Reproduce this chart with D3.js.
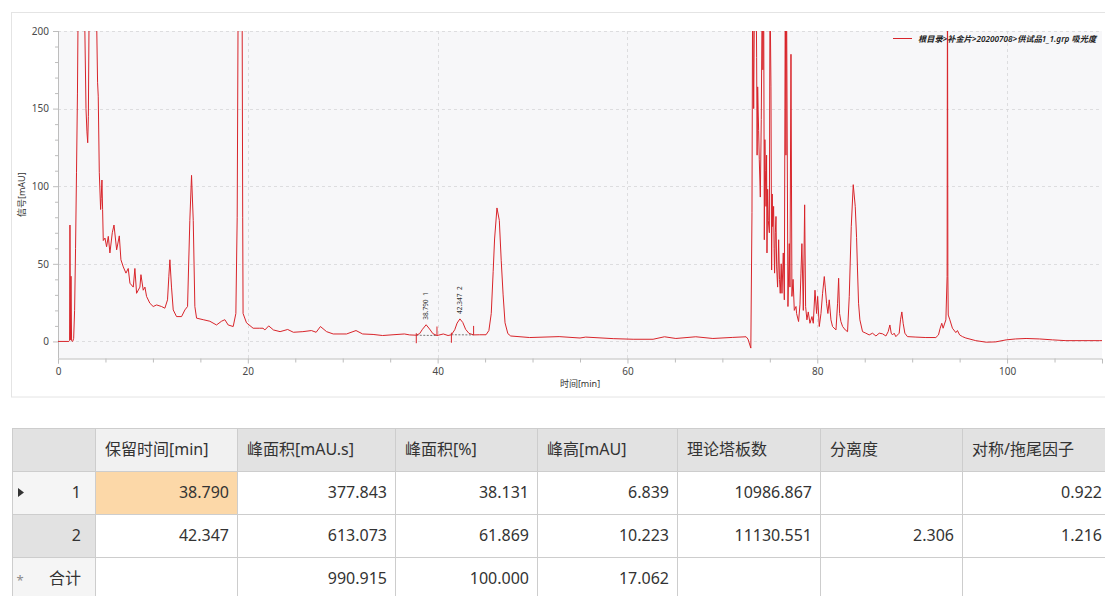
<!DOCTYPE html>
<html>
<head>
<meta charset="utf-8">
<script src="https://cdn.jsdelivr.net/npm/d3@7"></script>
<style>
  html, body { margin: 0; padding: 0; background: #fff; }
  svg { display: block; font-family: "Noto Sans", "Noto Sans CJK SC", sans-serif; }
</style>
</head>
<body>
<svg id="chart" width="1105" height="596"></svg>
<script>
// ---- Chromatogram: [retention time (min), signal (mAU)] ----
const trace = [
  [0,0],[1.15,0],[1.22,0.5],[1.26,75],[1.31,1],[1.37,42],[1.43,0.5],[1.55,0],[1.65,2],[1.75,20],
  [1.85,60],[1.95,109],[2.05,160],[2.12,215],[2.5,240],[2.77,225],[2.95,150],[3.05,135],[3.13,128],[3.2,145],
  [3.28,215],[3.6,250],[4.05,215],[4.17,167],[4.24,158],[4.35,109],[4.49,85],[4.55,92],[4.63,104],[4.7,85],
  [4.77,65],[4.95,66.6],[5.12,61],[5.3,67.7],[5.47,57],[5.72,70],[5.9,75],[6.18,59],[6.46,68],[6.63,52.6],
  [6.88,48],[7.16,44],[7.4,47],[7.58,37.5],[7.93,35],[8.1,47],[8.28,31],[8.63,35],[8.74,43],[8.98,33],
  [9.16,35],[9.33,29],[9.68,24.6],[10.03,22.5],[10.39,23.5],[10.91,22.5],[11.26,21.4],[11.54,26.8],[11.68,42],[11.79,52.6],
  [11.96,35],[12.14,20.3],[12.49,16],[13.02,16],[13.37,20.3],[13.65,22.5],[13.89,78],[14.07,107],[14.25,78],[14.42,22.5],
  [14.6,15],[15.3,14],[16.0,13],[16.7,10.6],[17.23,13],[17.58,14],[17.93,10.6],[18.46,9.6],[18.74,18],[18.88,80],
  [18.98,220],[19.2,300],[19.4,220],[19.46,80],[19.5,18],[19.86,12],[20.56,8.5],[21.26,8.5],[21.6,8.5],[21.8,7.4],
  [22.2,10],[22.7,7.4],[23.4,6.3],[24.2,7.7],[24.8,5.9],[25.8,6.3],[26.7,7],[27.2,5.9],[27.65,9.6],[28.3,6.3],
  [29.0,4.8],[30.4,4.8],[31.4,7],[32.1,4.8],[33.2,4.5],[34.2,3.8],[35.3,4.3],[36.5,4.8],[37.05,4.2],[37.75,4.0],
  [38.1,5.0],[38.4,7.8],[38.79,10.74],[39.15,8.0],[39.5,5.0],[39.93,3.8],[40.6,4.8],[41.1,3.8],[41.45,4.3],[41.8,7.5],
  [42.05,11.8],[42.347,14.5],[42.65,12.2],[42.95,7.8],[43.3,5.2],[43.79,4.2],[44.4,4.3],[45.1,4.3],[45.4,7],[45.65,18],
  [45.85,45],[46.0,66],[46.25,86],[46.5,78],[46.7,52],[46.9,30],[47.1,12],[47.4,5],[47.7,3.5],[49.7,2.5],
  [52.8,3.1],[55.0,2.2],[55.6,2.8],[58.5,1.8],[60.6,1.4],[62.7,1.4],[63.9,3],[65.1,1.9],[67.2,3],[69.0,1.9],
  [71.1,2.6],[72.5,3],[72.7,1.5],[73.0,-4.3],[73.12,83],[73.19,230],[73.3,150],[73.4,235],[73.55,240],[73.61,183],
  [73.66,120],[73.72,164],[73.82,136],[73.89,117],[74.0,93],[74.1,143],[74.2,230],[74.27,175],[74.35,230],[74.42,65.5],
  [74.48,130],[74.53,110],[74.6,87],[74.66,120],[74.7,57],[74.77,98],[74.84,78],[74.95,70],[75.02,230],[75.12,164],
  [75.19,46],[75.25,95],[75.3,74],[75.4,87],[75.45,60],[75.5,44],[75.58,70],[75.65,80.5],[75.72,48],[75.82,35],
  [75.93,65.5],[76.02,40],[76.1,31],[76.2,50],[76.28,31],[76.42,57],[76.53,26.8],[76.63,230],[76.7,120],[76.76,230],
  [76.91,22.5],[77.05,63],[77.12,35],[77.23,185],[77.33,29],[77.45,40],[77.58,20],[77.76,22.5],[77.82,18],[78.03,12.8],
  [78.18,24],[78.28,44],[78.38,63],[78.53,20],[78.67,88],[78.77,22.5],[78.91,13.9],[79.05,19],[79.23,11.7],[79.44,16],
  [79.58,11.7],[79.76,33],[79.93,18],[80.04,29],[80.21,9.6],[80.39,18],[80.56,31],[80.74,41.8],[80.84,35],[80.98,24.6],
  [81.12,18],[81.26,26.8],[81.44,13.9],[81.61,9.6],[81.97,7.4],[82.14,24.6],[82.25,40.7],[82.35,18],[82.49,12.8],[82.67,9.6],
  [82.95,7.4],[83.19,6.3],[83.37,29],[83.58,74],[83.79,101],[84.0,87],[84.14,67],[84.24,46],[84.35,24.6],[84.49,13.9],
  [84.77,6.3],[85.12,5.3],[85.47,4.2],[85.82,5.3],[86.18,3.5],[86.53,5.3],[86.88,4.9],[87.23,3.5],[87.47,6.3],[87.65,10.6],
  [87.79,5.3],[87.93,4.2],[88.1,5.3],[88.28,3.1],[88.63,5.3],[88.77,13.9],[88.91,19],[89.05,11.7],[89.23,5.3],[89.5,3.1],
  [90.39,2.8],[91.44,2.5],[92.49,2.5],[92.77,4.2],[92.95,8.5],[93.12,11.7],[93.26,8.5],[93.37,10.6],[93.55,13.9],[93.68,41.8],
  [93.72,260],[93.76,42],[93.8,17],[93.97,13.9],[94.24,8.5],[94.6,5.7],[94.77,7],[95.0,4.2],[95.3,3.1],[95.65,2.2],
  [96.7,0.5],[97.8,-0.5],[98.8,-0.3],[99.9,1],[100.9,1.6],[102,1.9],[103.4,1.6],[104.8,1],[106.2,0.5],[109.7,0.5],
  [110,0.5]
];

// ---- Axis ticks ----
const xTicksMajor = [0, 20, 40, 60, 80, 100];
const xTicksMinor = [5, 10, 15, 25, 30, 35, 45, 50, 55, 65, 70, 75, 85, 90, 95, 105];
const yTicksMajor = [0, 50, 100, 150, 200];
const yTicksMinor = [10, 20, 30, 40, 60, 70, 80, 90, 110, 120, 130, 140, 160, 170, 180, 190];

const xTitle = "时间[min]";
const yTitle = "信号[mAU]";
const legendLabel = "根目录>补金片>20200708>供试品1_1.grp 吸光度";

// ---- Integrated peaks ----
const peakNo = ["1", "2"];
const peakRT = [38.790, 42.347];
const peakStart = [37.75, 41.45];
const peakEnd = [39.93, 43.79];
const peakBaseStart = [4.0, 4.3];
const peakBaseEnd = [3.8, 4.2];

// ---- Peak table ----
const tableHeaders = ["", "保留时间[min]", "峰面积[mAU.s]", "峰面积[%]", "峰高[mAU]", "理论塔板数", "分离度", "对称/拖尾因子"];
const rowLabels = ["1", "2", "合计"];
const retentionCol = ["38.790", "42.347", ""];
const areaCol = ["377.843", "613.073", "990.915"];
const areaPctCol = ["38.131", "61.869", "100.000"];
const heightCol = ["6.839", "10.223", "17.062"];
const platesCol = ["10986.867", "11130.551", ""];
const resolutionCol = ["", "2.306", ""];
const tailingCol = ["0.922", "1.216", ""];

// ===================================================================
const svg = d3.select("#chart");
const traceColor = "#d8242a";

// chart panel
svg.append("rect")
  .attr("x", 11.5).attr("y", 12.5).attr("width", 1110).attr("height", 384.5)
  .attr("fill", "#fff").attr("stroke", "#e4e4e4");

const plot = { left: 58, right: 1102, top: 31, bottom: 358.5 };
const x = d3.scaleLinear().domain([0, 110]).range([plot.left, plot.right]);
const y = d3.scaleLinear().domain([-11, 200]).range([plot.bottom, plot.top]);

svg.append("rect")
  .attr("x", plot.left).attr("y", plot.top)
  .attr("width", plot.right - plot.left).attr("height", plot.bottom - plot.top)
  .attr("fill", "#f7f7f9");

// grid
const grid = svg.append("g").attr("stroke", "#d6d6d8").attr("stroke-dasharray", "3,3").attr("stroke-width", 0.8);
grid.selectAll("line.h").data(yTicksMajor).join("line")
  .attr("x1", plot.left).attr("x2", plot.right)
  .attr("y1", d => Math.round(y(d)) + 0.5).attr("y2", d => Math.round(y(d)) + 0.5);
grid.selectAll("line.v").data(xTicksMajor.filter(d => d > 0)).join("line")
  .attr("y1", plot.top).attr("y2", plot.bottom)
  .attr("x1", d => Math.round(x(d)) + 0.5).attr("x2", d => Math.round(x(d)) + 0.5);

// axes
const axisColor = "#bdbdbd";
const labelColor = "#4a4a4a";

const xAxis = svg.append("g").attr("transform", `translate(0,${plot.bottom})`)
  .call(d3.axisBottom(x).tickValues(xTicksMajor).tickSize(5).tickPadding(4).tickFormat(d3.format("d")));
const xMinor = svg.append("g").attr("transform", `translate(0,${plot.bottom})`)
  .call(d3.axisBottom(x).tickValues(xTicksMinor).tickSize(4).tickFormat(""));
const yAxis = svg.append("g").attr("transform", `translate(${plot.left},0)`)
  .call(d3.axisLeft(y).tickValues(yTicksMajor).tickSize(5).tickPadding(4).tickFormat(d3.format("d")));
const yMinor = svg.append("g").attr("transform", `translate(${plot.left},0)`)
  .call(d3.axisLeft(y).tickValues(yTicksMinor).tickSize(3).tickFormat(""));

[xAxis, xMinor, yAxis, yMinor].forEach(g => {
  g.select(".domain").attr("stroke", axisColor);
  g.selectAll(".tick line").attr("stroke", axisColor);
  g.selectAll(".tick text").attr("fill", labelColor).attr("font-size", 10)
    .attr("font-family", "'Noto Sans', sans-serif");
});
xMinor.select(".domain").remove();
yMinor.select(".domain").remove();
yAxis.select(".domain").attr("d", `M0.5,${plot.top}V${plot.bottom}`);

// axis titles
svg.append("text")
  .attr("x", (plot.left + plot.right) / 2).attr("y", 387)
  .attr("text-anchor", "middle").attr("font-size", 9).attr("fill", "#333")
  .text(xTitle);
svg.append("text")
  .attr("transform", `translate(25,${(plot.top + plot.bottom) / 2}) rotate(-90)`)
  .attr("text-anchor", "middle").attr("font-size", 9).attr("fill", "#333")
  .text(yTitle);

// legend
const legend = svg.append("g");
legend.append("line").attr("x1", 893).attr("x2", 912).attr("y1", 38.5).attr("y2", 38.5)
  .attr("stroke", traceColor).attr("stroke-width", 1);
legend.append("text").attr("x", 918).attr("y", 41.5)
  .attr("font-size", 8.2).attr("font-style", "italic").attr("font-weight", 600).attr("fill", "#222")
  .text(legendLabel);

// clip for the trace
svg.append("clipPath").attr("id", "plotClip").append("rect")
  .attr("x", plot.left).attr("y", plot.top)
  .attr("width", plot.right - plot.left).attr("height", plot.bottom - plot.top);

const line = d3.line().x(d => x(d[0])).y(d => y(d[1]));
svg.append("path")
  .datum(trace)
  .attr("clip-path", "url(#plotClip)")
  .attr("fill", "none").attr("stroke", traceColor).attr("stroke-width", 1)
  .attr("stroke-linejoin", "round")
  .attr("d", line);

// peak integration marks
const signalAt = t => {
  const i = d3.bisector(d => d[0]).left(trace, t);
  return trace[Math.min(i, trace.length - 1)][1];
};
const peaks = svg.append("g");
peakRT.forEach((rt, i) => {
  const xs = x(peakStart[i]), xe = x(peakEnd[i]);
  const ys = y(peakBaseStart[i]), ye = y(peakBaseEnd[i]);
  peaks.append("line").attr("x1", xs).attr("x2", xe).attr("y1", ys).attr("y2", ye)
    .attr("stroke", "#555").attr("stroke-width", 0.8).attr("stroke-dasharray", "2,1.5");
  peaks.append("line").attr("x1", xs).attr("x2", xs).attr("y1", ys - 2).attr("y2", ys + 8)
    .attr("stroke", traceColor).attr("stroke-width", 1);
  peaks.append("line").attr("x1", xe).attr("x2", xe).attr("y1", ye - 9).attr("y2", ye)
    .attr("stroke", traceColor).attr("stroke-width", 1);
  const top = y(signalAt(rt));
  peaks.append("text")
    .attr("transform", `translate(${x(rt) + 2.2},${top - 5}) rotate(-90)`)
    .attr("font-size", 6.5).attr("fill", "#333")
    .text(d3.format(".3f")(rt));
  peaks.append("text")
    .attr("transform", `translate(${x(rt) + 2.2},${top - 29}) rotate(-90)`)
    .attr("font-size", 6.5).attr("fill", "#333")
    .text(peakNo[i]);
});

// ===================================================================
// Peak table
const colWidths = [83, 142, 158, 142, 140, 143, 142, 148];
const colX = [12];
colWidths.forEach(w => colX.push(colX[colX.length - 1] + w));
const tableTop = 428, rowH = 43;
const gridColor = "#cdcdcd";
const textColor = "#333";
const columns = [retentionCol, areaCol, areaPctCol, heightCol, platesCol, resolutionCol, tailingCol];

const table = svg.append("g").attr("font-size", 16);

// header
tableHeaders.forEach((h, c) => {
  table.append("rect")
    .attr("x", colX[c]).attr("y", tableTop).attr("width", colWidths[c]).attr("height", rowH)
    .attr("fill", c === 1 ? "#f1f1f1" : "#e2e2e2");
  if (h) table.append("text")
    .attr("x", colX[c] + 10).attr("y", tableTop + rowH / 2).attr("dy", "0.35em")
    .attr("fill", textColor).text(h);
});

// body
rowLabels.forEach((lab, r) => {
  const top = tableTop + rowH * (r + 1);
  table.append("rect")
    .attr("x", colX[0]).attr("y", top).attr("width", colWidths[0]).attr("height", rowH)
    .attr("fill", r === 1 ? "#e2e2e2" : "#f5f5f5");
  columns.forEach((col, c) => {
    table.append("rect")
      .attr("x", colX[c + 1]).attr("y", top).attr("width", colWidths[c + 1]).attr("height", rowH)
      .attr("fill", r === 0 && c === 0 ? "#fcd8a8" : "#fff");
    if (col[r]) table.append("text")
      .attr("x", colX[c + 2] - 8).attr("y", top + rowH / 2).attr("dy", "0.35em")
      .attr("text-anchor", "end").attr("fill", textColor).text(col[r]);
  });
  if (r < 2) {
    table.append("text")
      .attr("x", 81).attr("y", top + rowH / 2).attr("dy", "0.35em")
      .attr("text-anchor", "end").attr("fill", textColor).text(lab);
  } else {
    table.append("text")
      .attr("x", 49).attr("y", top + rowH / 2).attr("dy", "0.35em")
      .attr("fill", textColor).text(lab);
    table.append("text")
      .attr("x", 20).attr("y", top + rowH / 2 + 6).attr("text-anchor", "middle")
      .attr("font-size", 13).attr("fill", "#8a8a8a").text("*");
  }
  if (r === 0) {
    table.append("path")
      .attr("d", `M18,${top + rowH / 2 - 4.5}L24,${top + rowH / 2}L18,${top + rowH / 2 + 4.5}Z`)
      .attr("fill", "#333");
  }
});

// grid lines
for (let r = 0; r <= 4; r++) {
  table.append("line")
    .attr("x1", colX[0]).attr("x2", colX[colX.length - 1])
    .attr("y1", tableTop + rowH * r + 0.5).attr("y2", tableTop + rowH * r + 0.5)
    .attr("stroke", gridColor);
}
colX.forEach(cx => {
  table.append("line")
    .attr("x1", cx + 0.5).attr("x2", cx + 0.5)
    .attr("y1", tableTop).attr("y2", tableTop + rowH * 4)
    .attr("stroke", gridColor);
});
</script>
</body>
</html>
